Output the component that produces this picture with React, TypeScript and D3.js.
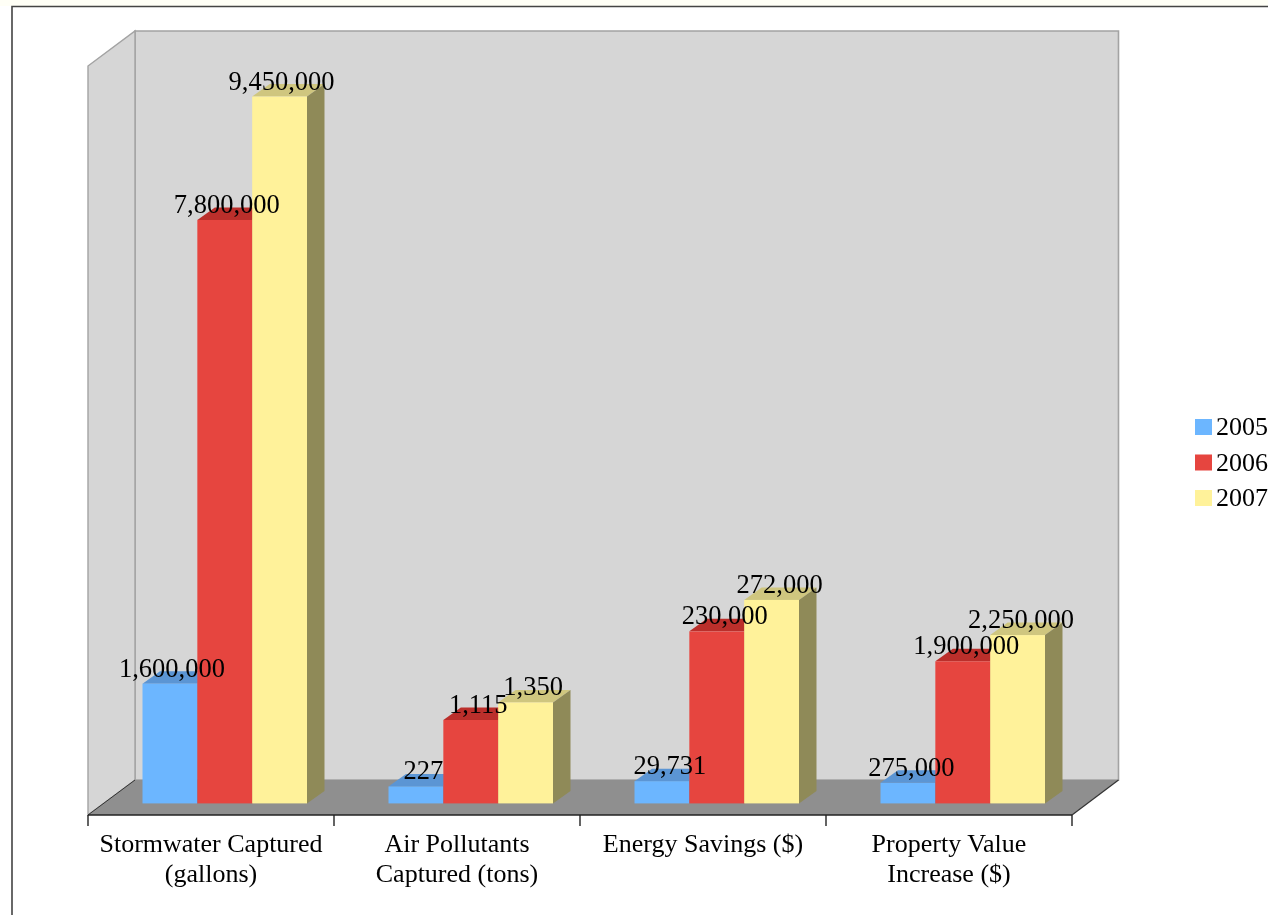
import React from "react";
import * as d3 from "d3";

const categories = [
  ["Stormwater Captured", "(gallons)"],
  ["Air Pollutants", "Captured (tons)"],
  ["Energy Savings ($)"],
  ["Property Value", "Increase ($)"],
];
const categoryIds = ["stormwater", "air", "energy", "property"];
const seriesNames = ["2005", "2006", "2007"];
// Printed values per category
const values2005 = [1600000, 227, 29731, 275000];
const values2006 = [7800000, 1115, 230000, 1900000];
const values2007 = [9450000, 1350, 272000, 2250000];
// The chart plots each category in its own unit
const categoryUnits = [1000000, 1000, 100000, 1000000];
const seriesValues = [values2005, values2006, values2007];

const frontColors = ["#6cb6ff", "#e6453f", "#fff29a"];
const topColors = ["#5b95d4", "#bb2f2b", "#cfc67f"];
const sideColors = ["#4f7fb5", "#a83030", "#8f8a58"];

const FONT = "'Liberation Serif', serif";
const fmt = d3.format(",");

export default function App() {
  const left = 88;
  const right = 1072;
  const floorFront = 815;
  const depthFloorX = 47;
  const depthFloorY = 35;
  const baseY = 803.4;
  const barDX = 17.5;
  const barDY = 12.5;
  const labelShift = [2, 7.5, 8, 3.5];

  const x0 = d3.scaleBand<string>().domain(categoryIds).range([left, right]);
  const xBar = d3.scaleBand<string>().domain(seriesNames).range([54.5, 219]);
  const y = d3.scaleLinear().domain([0, 10]).range([baseY, baseY - 748]);
  const wallTop = 66;

  const poly = (pts: [number, number][]) => d3.line()(pts)! + "Z";

  return (
    <svg
      width={1268}
      height={915}
      style={{ position: "absolute", left: 0, top: 0, background: "#fff", filter: "blur(0.4px)" }}
      fontFamily={FONT}
    >
      <rect x={0} y={0} width={1268} height={6} fill="#fffff6" />
      <path d="M1268,6.5H12V915" fill="none" stroke="#444" strokeWidth={1.6} />

      {/* walls */}
      <path
        d={poly([
          [left + depthFloorX, wallTop - depthFloorY],
          [right + depthFloorX - 0.5, wallTop - depthFloorY],
          [right + depthFloorX - 0.5, floorFront - depthFloorY],
          [left + depthFloorX, floorFront - depthFloorY],
        ])}
        fill="#d6d6d6"
        stroke="#a3a3a3"
        strokeWidth={1.6}
      />
      <path
        d={poly([
          [left, wallTop],
          [left + depthFloorX, wallTop - depthFloorY],
          [left + depthFloorX, floorFront - depthFloorY],
          [left, floorFront],
        ])}
        fill="#d6d6d6"
        stroke="#a3a3a3"
        strokeWidth={1.4}
      />
      {/* floor */}
      <path
        d={poly([
          [left, floorFront],
          [right, floorFront],
          [right + depthFloorX - 0.5, floorFront - depthFloorY],
          [left + depthFloorX, floorFront - depthFloorY],
        ])}
        fill="#8f8f8f"
      />
      <path
        d={`M${right},${floorFront}L${right + depthFloorX - 0.5},${floorFront - depthFloorY}`}
        stroke="#333"
        strokeWidth={1.2}
        fill="none"
      />
      <path
        d={`M${left},${floorFront}L${left + depthFloorX},${floorFront - depthFloorY}`}
        stroke="#333"
        strokeWidth={1}
        fill="none"
      />

      {/* bars */}
      {categoryIds.map((c, ci) => (
        <g key={c} transform={`translate(${x0(c)},0)`}>
          {seriesNames.map((s, si) => {
            const v = seriesValues[si][ci] / categoryUnits[ci];
            const xl = xBar(s)!;
            const w = xBar.bandwidth();
            const yt = y(v);
            return (
              <g key={s}>
                <path
                  d={poly([
                    [xl, yt],
                    [xl + barDX, yt - barDY],
                    [xl + w + barDX, yt - barDY],
                    [xl + w, yt],
                  ])}
                  fill={topColors[si]}
                />
                <path
                  d={poly([
                    [xl + w, yt],
                    [xl + w + barDX, yt - barDY],
                    [xl + w + barDX, baseY - barDY],
                    [xl + w, baseY],
                  ])}
                  fill={sideColors[si]}
                />
                <rect x={xl} y={yt} width={w} height={baseY - yt} fill={frontColors[si]} />
              </g>
            );
          })}
        </g>
      ))}

      {/* value labels */}
      {categoryIds.map((c, ci) => (
        <g key={c} transform={`translate(${x0(c)},0)`}>
          {seriesNames.map((s, si) => {
            const v = seriesValues[si][ci];
            return (
              <text
                key={s}
                x={xBar(s)! + xBar.bandwidth() / 2 + labelShift[ci]}
                y={y(v / categoryUnits[ci]) - 7}
                textAnchor="middle"
                fontSize={26.5}
                fill="#000"
              >
                {fmt(v)}
              </text>
            );
          })}
        </g>
      ))}

      {/* axis */}
      <path d={`M${left},${floorFront}H${right}`} stroke="#222" strokeWidth={1.6} fill="none" />
      {[...categoryIds.map((c) => x0(c)!), right].map((t) => (
        <line key={t} x1={t} x2={t} y1={floorFront} y2={floorFront + 11} stroke="#222" strokeWidth={1.4} />
      ))}
      {categoryIds.map((c, ci) => (
        <text
          key={c}
          textAnchor="middle"
          fontSize={26}
          fill="#000"
          transform={`translate(${x0(c)! + x0.bandwidth() / 2},0)`}
        >
          {categories[ci].map((line, li) => (
            <tspan key={line} x={0} y={852 + li * 30}>
              {line}
            </tspan>
          ))}
        </text>
      ))}

      {/* legend */}
      {seriesNames.map((s, si) => (
        <g key={s} transform={`translate(1195,${419 + si * 35.5})`}>
          <rect width={17} height={16} fill={frontColors[si]} />
          <text x={21} y={16} fontSize={26} fill="#000">
            {s}
          </text>
        </g>
      ))}
    </svg>
  );
}
